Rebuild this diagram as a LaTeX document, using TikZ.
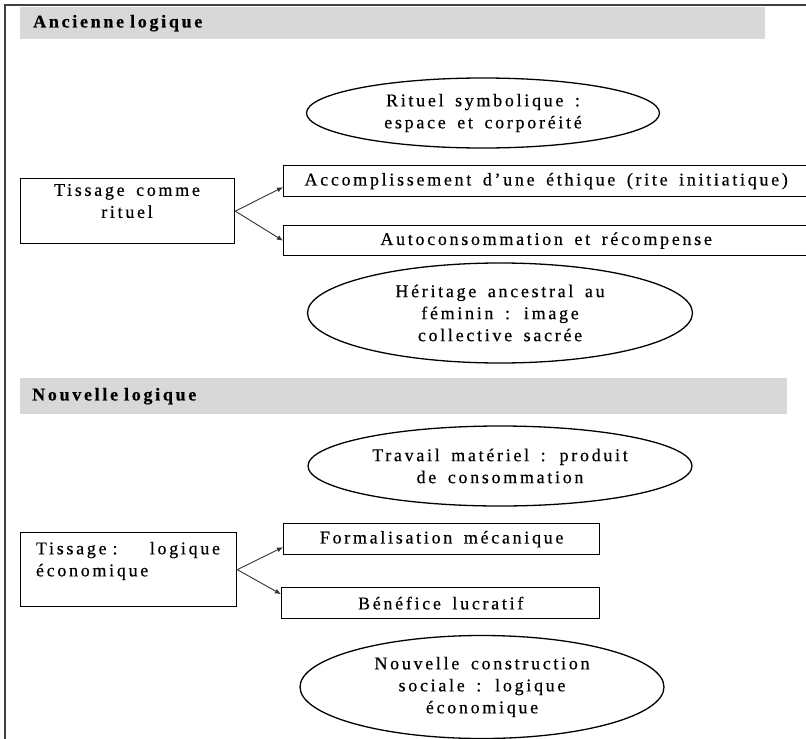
\documentclass[tikz,border=0pt]{standalone}
\usepackage{fontspec}
\setmainfont[LetterSpace=15, WordSpace=1.6, FakeBold=0.5]{Liberation Serif}
\usetikzlibrary{shapes.geometric,arrows.meta}
\definecolor{barfill}{RGB}{216,216,216}
\begin{document}
\begin{tikzpicture}[x=1pt,y=-1pt,
  every node/.style={font=\fontsize{18}{22}\selectfont, inner sep=0pt},
  bar/.style={fill=barfill, anchor=north west, align=left, font=\fontsize{18}{22}\selectfont\bfseries},
  box/.style={draw, line width=1.3pt, anchor=north west},
  oval/.style={draw, ellipse, line width=1.3pt, align=center},
  arr/.style={draw=black!80, line width=0.9pt, -{Latex[length=6pt,width=5pt]}}]
  \useasboundingbox (0,0) rectangle (806,739);
  \draw [line width=2pt, black!75] (5,739)--(5,5)--(806,5);

  \node [bar, text width=719pt, inner xsep=13pt, minimum height=32pt] (old) at (20,7) {Ancienne logique};
  \node [oval, minimum width=353pt, minimum height=70pt] (rit) at (483,113) {Rituel symbolique :\\espace et corporéité};
  \node [box, minimum width=214pt, minimum height=65pt] (tis1) at (20,178) {};
    \node [align=center] (tis1txt) at (127,201) {Tissage comme\\rituel};
  \node [box, minimum width=525pt, minimum height=31pt] (acc) at (283,165) {Accomplissement d’une éthique (rite initiatique)};
  \node [box, minimum width=525pt, minimum height=30pt] (auto) at (283,225) {Autoconsommation et récompense};
  \node [oval, minimum width=385pt, minimum height=100pt] (her) at (500,313) {Héritage ancestral au\\féminin : image\\collective sacrée};
  \draw [arr] (tis1.east) -- ([yshift=-6pt]acc.west);
  \draw [arr] (tis1.east) -- (auto.west);

  \node [bar, text width=743pt, inner xsep=12pt, minimum height=36pt] (new) at (20,378) {Nouvelle logique};
  \node [oval, minimum width=384pt, minimum height=80pt] (trav) at (500,466) {Travail matériel : produit\\de consommation};
  \node [box, minimum width=216pt, minimum height=74pt] (tis2) at (20,532) {};
    \node [text width=184pt, align=left] (tis2txt) at (128,561) {\makebox[184pt][s]{Tissage :\hfill logique}\\économique};
  \node [box, minimum width=316pt, minimum height=31pt] (form) at (283,523) {Formalisation mécanique};
  \node [box, minimum width=318pt, minimum height=31pt] (bene) at (281,587) {Bénéfice lucratif};
  \node [oval, minimum width=364pt, minimum height=103pt] (soc) at (482,687) {Nouvelle construction\\sociale : logique\\économique};
  \draw [arr] (tis2.east) -- ([yshift=-8pt]form.west);
  \draw [arr] (tis2.east) -- ([yshift=9pt]bene.west);
\end{tikzpicture}
\end{document}
